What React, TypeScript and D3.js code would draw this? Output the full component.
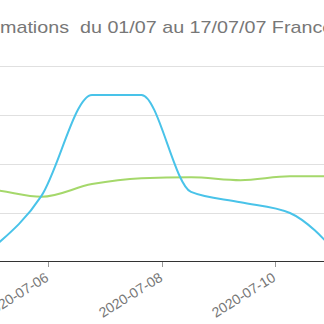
import React from "react";
import * as d3 from "d3";

const dates = [
  "2020-07-04T03:49",
  "2020-07-05T00:45",
  "2020-07-05T21:14",
  "2020-07-06T18:36",
  "2020-07-07T15:33",
  "2020-07-08T12:29",
  "2020-07-09T09:24",
  "2020-07-10T06:20",
  "2020-07-11T03:17",
];
const blueValues = [-40, 28, 134, 340, 340, 142, 121, 99, 12];
const greenValues = [150, 146, 132, 158, 170, 172, 166, 174, 174];
const yTicks = [0, 100, 200, 300, 400];
const titleText = "mations  du 01/07 au 17/07/07 France";

const W = 324;
const H = 324;

export default function App() {
  const parse = d3.timeParse("%Y-%m-%dT%H:%M");
  const xs = dates.map((d) => parse(d) as Date);
  const x = d3
    .scaleTime()
    .domain([new Date(2020, 6, 6), new Date(2020, 6, 10)])
    .range([48, 275]);
  const y = d3.scaleLinear().domain([0, 400]).range([261.5, 65.5]);
  const fmt = d3.timeFormat("%Y-%m-%d");

  const line = (vals: number[]) =>
    d3
      .line<number>()
      .x((_, i) => x(xs[i]))
      .y((v) => y(v))
      .curve(d3.curveMonotoneX)(vals) as string;

  const allTicks = d3.timeDay
    .range(new Date(2020, 6, 1), new Date(2020, 6, 18))
    .filter((t) => t.getDate() % 2 === 0);

  return (
    <svg
      width={W}
      height={H}
      style={{ position: "absolute", left: 0, top: 0, background: "#fff" }}
      fontFamily="'Liberation Sans', Arial, sans-serif"
    >
      <rect x={0} y={0} width={W} height={H} fill="#fff" />
      <text
        x={0}
        y={33}
        fontSize={17}
        fill="#777"
        transform="scale(1.16,1)"
        style={{ whiteSpace: "pre" }}
      >
        {titleText}
      </text>
      {yTicks.slice(1).map((t) => (
        <line key={t} x1={-10} x2={W + 10} y1={Math.round(y(t)) + 0.5} y2={Math.round(y(t)) + 0.5} stroke="#e0e0e0" strokeWidth={1} />
      ))}
      <path d={line(greenValues)} fill="none" stroke="#a5d86b" strokeWidth={2} />
      <path d={line(blueValues)} fill="none" stroke="#49c3e9" strokeWidth={2} />
      <line x1={-10} x2={W + 10} y1={261.5} y2={261.5} stroke="#333" strokeWidth={1} />
      {allTicks.map((t) => {
        const px = Math.round(x(t)) + 0.5;
        return (
          <g key={t.toISOString()}>
            <line x1={px} x2={px} y1={262} y2={267} stroke="#999" strokeWidth={1} />
            <text
              transform={`translate(${px + 1},${280}) rotate(-32)`}
              textAnchor="end"
              fontSize={14}
              fill="#777"
            >
              {fmt(t)}
            </text>
          </g>
        );
      })}
    </svg>
  );
}
